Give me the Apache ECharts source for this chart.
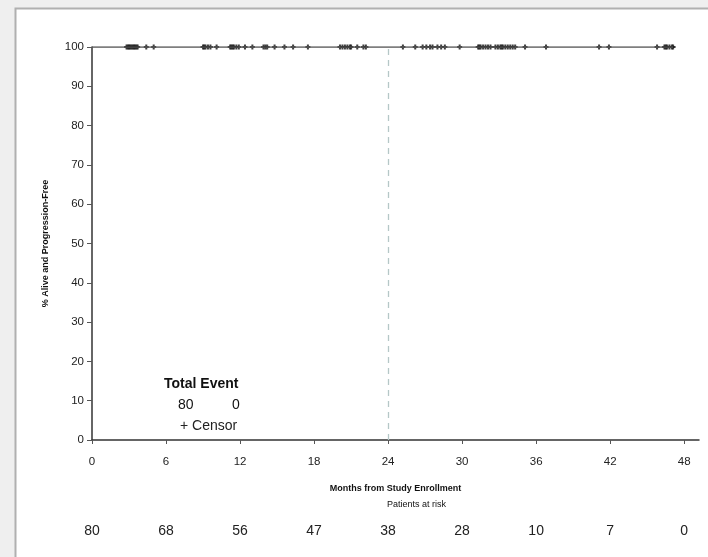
<!DOCTYPE html>
<html><head><meta charset="utf-8">
<script src="https://cdn.jsdelivr.net/npm/echarts@6/dist/echarts.min.js"></script>
<style>html,body{margin:0;padding:0;background:#efefef;}#c{width:708px;height:557px;}</style>
</head><body><div id="c"></div>
<script>
const xTicks = [0, 6, 12, 18, 24, 30, 36, 42, 48];
const atRisk = [80, 68, 56, 47, 38, 28, 10, 7, 0];
const yTicks = [0, 10, 20, 30, 40, 50, 60, 70, 80, 90, 100];
const kmCurve = [[0, 100], [47.1, 100]];
const censorTimes = [
  2.8, 2.9, 3.0, 3.1, 3.2, 3.3, 3.4, 3.5, 3.6, 3.7, 4.4, 5.0,
  9.0, 9.1, 9.2, 9.4, 9.6, 10.1, 11.2, 11.3, 11.4, 11.5, 11.7, 11.9,
  12.4, 13.0, 13.9, 14.05, 14.2, 14.8, 15.6, 16.3, 17.5,
  20.1, 20.3, 20.5, 20.7, 20.9, 21.0, 21.5, 22.0, 22.2,
  25.2, 26.2, 26.8, 27.1, 27.4, 27.6, 28.0, 28.3, 28.6, 29.8,
  31.3, 31.4, 31.5, 31.7, 31.9, 32.1, 32.3, 32.7, 32.9, 33.1, 33.2, 33.3, 33.5, 33.7, 33.9, 34.1, 34.3, 35.1,
  36.8, 41.1, 41.9,
  45.8, 46.4, 46.5, 46.6, 46.8, 47.0, 47.1
];
const totalN = 80, totalEvents = 0;
const font = 'Liberation Sans, Arial, sans-serif';
const chart = echarts.init(document.getElementById('c'));
chart.setOption({
  backgroundColor: 'transparent',
  animation: false,
  graphic: [
    { type: 'rect', z: -10, shape: { x: 15.5, y: 8.5, width: 720, height: 600 },
      style: { fill: '#ffffff', stroke: '#b0b0b0', lineWidth: 2 } },
    { type: 'text', left: 164, top: 377, style: { text: 'Total Event', font: 'bold 14px ' + font, fill: '#111' } },
    { type: 'text', left: 178, top: 398, style: { text: totalN + '', font: '14px ' + font, fill: '#111' } },
    { type: 'text', left: 232, top: 398, style: { text: totalEvents + '', font: '14px ' + font, fill: '#111' } },
    { type: 'text', left: 180, top: 419, style: { text: '+ Censor', font: '14px ' + font, fill: '#222' } },
    { type: 'text', left: 387, top: 500, style: { text: 'Patients at risk', font: '9px ' + font, fill: '#111', align: 'center' } }
  ],
  grid: { left: 92, right: 9, top: 47, bottom: 117, containLabel: false },
  xAxis: [{
    type: 'value', min: 0, max: 49.2,
    name: 'Months from Study Enrollment', nameLocation: 'middle', nameGap: 44,
    nameTextStyle: { fontFamily: font, fontSize: 9, fontWeight: 'bold', color: '#111' },
    axisLine: { show: true, lineStyle: { color: '#333', width: 1.5 } },
    axisTick: { show: true, length: 4, customValues: xTicks, lineStyle: { color: '#555' } },
    axisLabel: { customValues: xTicks, fontFamily: font, fontSize: 11.5, color: '#222', margin: 16 },
    splitLine: { show: false }
  }, {
    type: 'value', min: 0, max: 49.2, position: 'bottom', offset: 84,
    axisLine: { show: false }, axisTick: { show: false }, splitLine: { show: false },
    axisLabel: {
      customValues: xTicks, fontFamily: font, fontSize: 14, color: '#222', margin: 0,
      formatter: v => { const i = xTicks.indexOf(v); return i >= 0 ? String(atRisk[i]) : ''; }
    }
  }],
  yAxis: {
    type: 'value', min: 0, max: 100, interval: 10,
    name: '% Alive and Progression-Free', nameLocation: 'middle', nameGap: 42, nameRotate: 90,
    nameTextStyle: { fontFamily: font, fontSize: 9, fontWeight: 'bold', color: '#111' },
    axisLine: { show: true, lineStyle: { color: '#333', width: 1.5 } },
    axisTick: { show: true, length: 5, lineStyle: { color: '#555' } },
    axisLabel: { fontFamily: font, fontSize: 11.5, color: '#222', margin: 8 },
    splitLine: { show: false }
  },
  series: [{
    type: 'line', data: kmCurve, step: 'end', symbol: 'none',
    lineStyle: { color: '#555', width: 1.5 },
    markLine: {
      silent: true, symbol: 'none', label: { show: false },
      lineStyle: { color: '#b5c7c7', type: [6, 5], width: 1.3 },
      data: [{ xAxis: 24 }]
    }
  }, {
    type: 'scatter', data: censorTimes.map(t => [t, 100]),
    symbol: 'path://M3,0H7V3H10V7H7V10H3V7H0V3H3Z', symbolSize: 5,
    itemStyle: { color: '#111' }
  }]
});
</script></body></html>
